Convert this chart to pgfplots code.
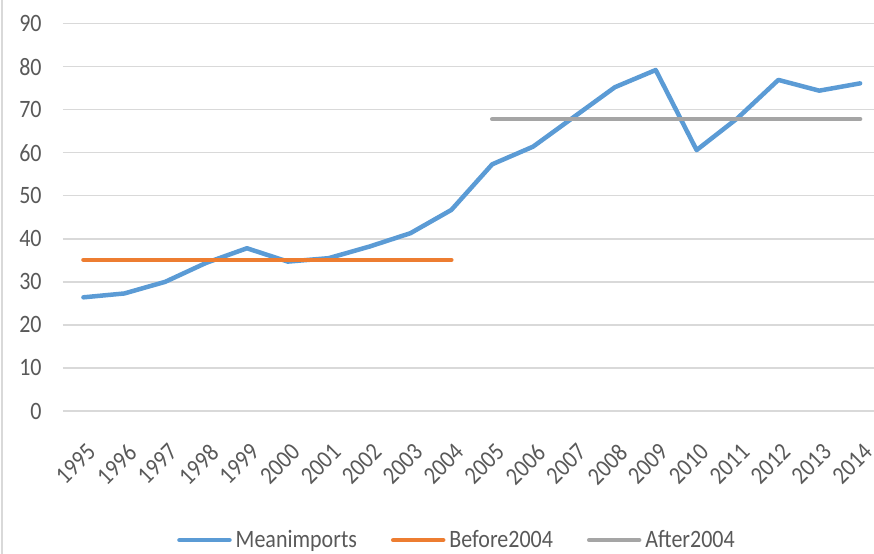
\documentclass[border=0pt]{standalone}
\usepackage{fontspec}
\setmainfont{Carlito}[FakeStretch=0.88]
\usepackage{pgfplots}
\pgfplotsset{compat=1.18}
\definecolor{cblue}{HTML}{5B9BD5}
\definecolor{corange}{HTML}{ED7D31}
\definecolor{cgray}{HTML}{A5A5A5}
\definecolor{cgrid}{HTML}{D9D9D9}
\definecolor{ctext}{HTML}{595959}
\begin{document}
\begin{tikzpicture}
\begin{axis}[
  scale only axis,
  width=405.5bp, height=193.75bp,
  xmin=-0.5, xmax=19.34,
  ymin=0, ymax=90,
  ytick={0,10,...,90},
  xtick={0,...,19},
  xticklabels={1995,1996,1997,1998,1999,2000,2001,2002,2003,2004,2005,2006,2007,2008,2009,2010,2011,2012,2013,2014},
  axis line style={draw=none},
  major tick length=0pt,
  ymajorgrids, grid style={cgrid, line width=0.75bp},
  /pgf/number format/assume math mode=true,
  tick label style={font=\fontsize{12.5bp}{14bp}\selectfont, text=ctext},
  yticklabel style={anchor=east, inner sep=0pt, xshift=-10.5bp},
  xticklabel style={xshift=1bp, yshift=-15.5bp, rotate=45, anchor=north east, inner sep=0pt},
  legend columns=3,
  legend style={draw=none, fill=none, at={(rel axis cs:0.487,-0.333)}, anchor=center,
    font=\fontsize{12.5bp}{14bp}\selectfont, text=ctext,
    /tikz/every even column/.append style={column sep=15bp}},
  legend image code/.code={\draw[#1, line cap=round] (0bp,0bp) -- (25bp,0bp);},
  every axis plot/.append style={line width=2.25bp, line cap=round, line join=round},
]
\addplot[cblue, mark=none] coordinates {
  (0,26.4) (1,27.3) (2,30.0) (3,34.4) (4,37.8) (5,34.7) (6,35.5) (7,38.2) (8,41.3) (9,46.7)
  (10,57.3) (11,61.4) (12,68.3) (13,75.2) (14,79.2) (15,60.6) (16,68.0) (17,76.9) (18,74.4) (19,76.1)};
\addlegendentry{Meanimports}
\addplot[corange, mark=none] coordinates {
  (0,35.1) (1,35.1) (2,35.1) (3,35.1) (4,35.1) (5,35.1) (6,35.1) (7,35.1) (8,35.1) (9,35.1)};
\addlegendentry{Before2004}
\addplot[cgray, mark=none] coordinates {
  (10,67.8) (11,67.8) (12,67.8) (13,67.8) (14,67.8) (15,67.8) (16,67.8) (17,67.8) (18,67.8) (19,67.8)};
\addlegendentry{After2004}
\end{axis}
\draw[cgrid, line width=1bp] (-30.5bp,-71.5bp) -- (-30.5bp,205.5bp);
\pgfresetboundingbox
\path[use as bounding box] (-31.5bp,-71.5bp) rectangle (405.5bp,205.5bp);
\end{tikzpicture}
\end{document}
